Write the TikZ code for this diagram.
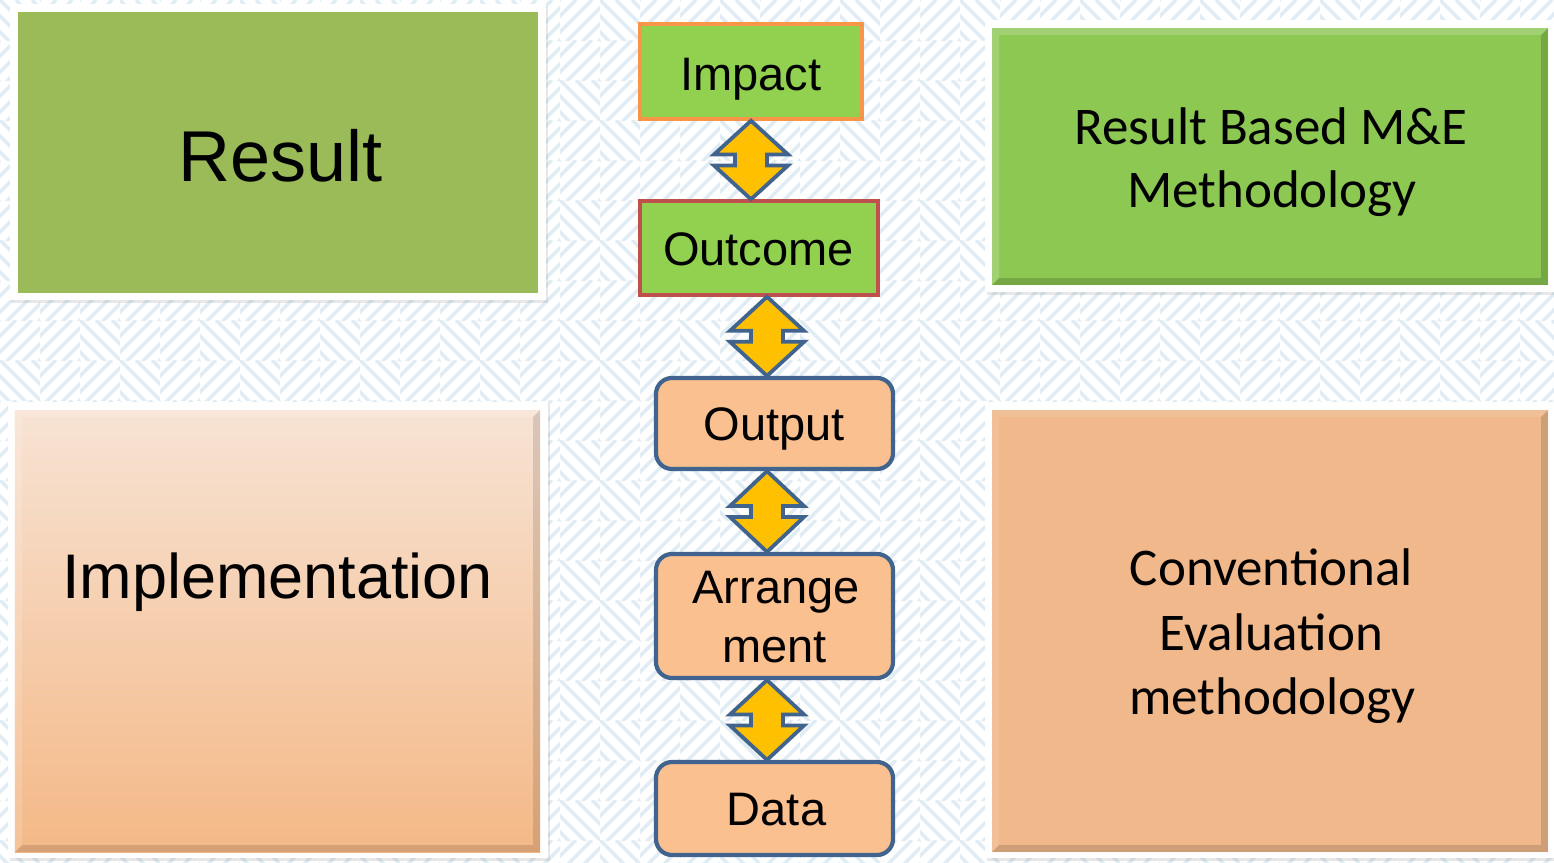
\documentclass[tikz,border=0pt]{standalone}
\usepackage{fontspec}
\setmainfont{Liberation Sans}
\newfontfamily\calibrifont{Carlito}
\usetikzlibrary{calc,shadows}
\definecolor{bgl}{HTML}{E0ECF4}
\definecolor{resgreen}{HTML}{9BBB59}
\definecolor{rbmgreen}{HTML}{8DC853}
\definecolor{convorange}{HTML}{F0B88B}
\definecolor{impltop}{HTML}{F7E3D4}
\definecolor{implbot}{HTML}{F4B886}
\definecolor{boxgreen}{HTML}{92D050}
\definecolor{boxpeach}{HTML}{FAC090}
\definecolor{edgeblue}{HTML}{41648F}
\definecolor{edgeorange}{HTML}{F79646}
\definecolor{edgered}{HTML}{C0504D}
\definecolor{arrgold}{HTML}{FFC000}
\newcommand{\dblarr}[3]{%
  \draw[arrowshape] let \p1=(#1.south), \p2=(#2.north), \n1={0.5*(\y1+\y2)} in
   ({\x1+(#3)},\y1) -- ({\x1+(#3)+37bp},{\n1+5.5bp}) -- ({\x1+(#3)+16bp},{\n1+5.5bp})
   -- ({\x1+(#3)+16bp},{\n1-5.5bp}) -- ({\x1+(#3)+37bp},{\n1-5.5bp}) -- ({\x1+(#3)},\y2)
   -- ({\x1+(#3)-37bp},{\n1-5.5bp}) -- ({\x1+(#3)-16bp},{\n1-5.5bp})
   -- ({\x1+(#3)-16bp},{\n1+5.5bp}) -- ({\x1+(#3)-37bp},{\n1+5.5bp}) -- cycle;}
\newcommand{\bevel}[3]{%
  \fill[#3] (#1.south west) -- (#1.south east) -- (#1.north east) -- ($(#1.north east)+(-7,7)$)
     -- ($(#1.south east)+(-7,-7)$) -- ($(#1.south west)+(7,-7)$) -- cycle;
  \fill[#2] (#1.south west) -- (#1.north west) -- (#1.north east) -- ($(#1.north east)+(-7,7)$)
     -- ($(#1.north west)+(7,7)$) -- ($(#1.south west)+(7,-7)$) -- cycle;}
\begin{document}
\begin{tikzpicture}[x=1bp,y=-1bp,
  bgline/.style={draw=bgl, line width=3.3bp},
  frame/.style={fill=white, drop shadow={opacity=0.18, shadow xshift=2bp, shadow yshift=-3bp}},
  bigbox/.style={draw=none, inner sep=0pt, outer sep=0pt},
  flowbox/.style={draw, line width=3.5bp, inner sep=0pt},
  peachbox/.style={flowbox, fill=boxpeach, draw=edgeblue, line width=4.2bp, rounded corners=16bp},
  arrowshape/.style={fill=arrgold, draw=edgeblue, line width=3.8bp, line join=miter},
  lbl/.style={anchor=base, inner sep=0pt, text=black},
  armfont/.style={font=\fontsize{47bp}{58bp}\selectfont},
  calfont/.style={font=\calibrifont\fontsize{53bp}{64bp}\selectfont}]
\useasboundingbox (0,0) rectangle (1554,862);
\fill[white] (0,0) rectangle (1554,862);
% background maze-like pattern
\foreach \i in {0,...,38}{
 \foreach \j in {0,...,21}{
  \pgfmathtruncatemacro\dir{mod(\i*7+\j*13+\i*\j*5,3)}
  \begin{scope}
   \clip (40*\i,40*\j) rectangle ++(40,40);
   \ifnum\dir=0
     \foreach \k in {-48,-32,...,96}{\draw[bgline] ({40*\i+\k},{40*\j}) -- ++(48,48);}
   \else
     \foreach \k in {-48,-32,...,96}{\draw[bgline] ({40*\i+\k},{40*\j}) -- ++(-48,48);}
   \fi
  \end{scope}
 }}
% white frames
\fill[frame] (10,4) rectangle (546,300);
\fill[frame] (8,402) rectangle (548,858);
\fill[frame] (985,20) rectangle (1558,292);
\fill[frame] (985,402) rectangle (1558,858);
% big boxes
\node[bigbox, fill=resgreen, minimum width=520bp, minimum height=281bp] (resultbox) at (278,152.5) {};
\node[bigbox, top color=impltop, bottom color=implbot, minimum width=525bp, minimum height=442bp] (implbox) at (277.5,631) {};
\bevel{implbox}{white,opacity=0.15}{black,opacity=0.12}
\node[bigbox, fill=rbmgreen, minimum width=556bp, minimum height=257bp] (rbmbox) at (1270,156.5) {};
\bevel{rbmbox}{white,opacity=0.18}{black,opacity=0.16}
\node[bigbox, fill=convorange, minimum width=556bp, minimum height=442bp] (convbox) at (1270,631) {};
\bevel{convbox}{white,opacity=0.12}{black,opacity=0.14}
% big box texts
\node[lbl, font=\fontsize{72bp}{80bp}\selectfont] (tresult) at (280.5,181) {Result};
\node[lbl, font=\fontsize{63bp}{72bp}\selectfont] (timpl) at (277.5,598) {Implementation};
\node[lbl, calfont] (trbm1) at (1271,144) {Result Based M\&E};
\node[lbl, calfont] (trbm2) at (1272,207) {Methodology};
\node[lbl, calfont] (tconv1) at (1271.5,585) {Conventional};
\node[lbl, calfont] (tconv2) at (1271.5,650) {Evaluation};
\node[lbl, calfont] (tconv3) at (1272.5,714) {methodology};
% flow boxes
\node[flowbox, fill=boxgreen, draw=edgeorange, minimum width=222bp, minimum height=95bp] (impact) at (751,71.5) {};
\node[flowbox, fill=boxgreen, draw=edgered, minimum width=238bp, minimum height=94bp] (outcome) at (759,248) {};
\node[peachbox, minimum width=237bp, minimum height=91bp] (output) at (774.5,423.5) {};
\node[peachbox, minimum width=237bp, minimum height=124bp] (arrange) at (774.5,616) {};
\node[peachbox, minimum width=237bp, minimum height=93bp] (data) at (774.5,808.5) {};
\node[lbl, armfont] (timpact) at (751,90) {Impact};
\node[lbl, armfont] (toutcome) at (758.5,265) {Outcome};
\node[lbl, armfont] (toutput) at (774,440) {Output};
\node[lbl, armfont] (tarr1) at (776,603) {Arrange};
\node[lbl, armfont] (tarr2) at (774.5,662) {ment};
\node[lbl, armfont] (tdata) at (776.5,825) {Data};
% double arrows
\dblarr{impact}{outcome}{0bp}
\dblarr{outcome}{output}{8bp}
\dblarr{output}{arrange}{-7.5bp}
\dblarr{arrange}{data}{-7.5bp}
\end{tikzpicture}
\end{document}
